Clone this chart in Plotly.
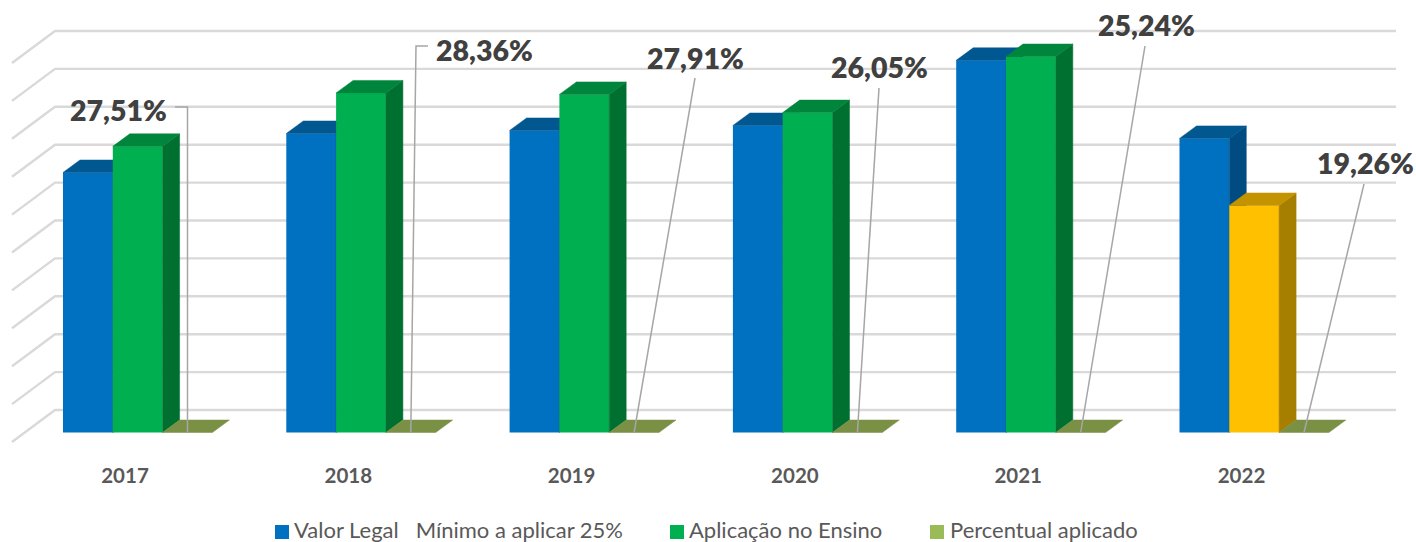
"""3D-look column chart: legal minimum vs. education spending, 2017-2022."""
import plotly.graph_objects as go

# Values are read off the picture, in grid steps (the value axis has no labels)
anos = ['2017', '2018', '2019', '2020', '2021', '2022']
valor_legal = [6.86, 7.89, 7.97, 8.10, 9.82, 7.76]
aplicacao = [7.55, 8.96, 8.92, 8.44, 9.92, 5.99]
percentual = [27.51, 28.36, 27.91, 26.05, 25.24, 19.26]
percentual_txt = ['27,51%', '28,36%', '27,91%', '26,05%', '25,24%', '19,26%']
legend_names = ['Valor Legal \u00a0\u00a0Mínimo a aplicar 25%', 'Aplicação no Ensino', 'Percentual aplicado']
grid_steps = list(range(11))

# Geometry of the fake 3D box, in pixels of the 1416x542 picture
W, H = 1416, 542
PLOT_BOTTOM = 450
X0_PX, CAT_PX = 125.0, 223.3    # centre of the first category label, category pitch
Y0_PX, STEP_PX = 432.5, 37.9    # front baseline of the bars, height of a grid step
BAR_PX, BLUE_OFF_PX = 49.8, -62.0
DEPTH_X_PX, DEPTH_Y_PX = 17.0, 12.5
GRID_BACK_Y_PX = 410.0
GRID_LEFT_PX, GRID_BACK_X_PX, GRID_RIGHT_PX = 12.0, 55.0, 1396.0
GRID_SLOPE_PX = 32.0


def dx(px):
    return (px - X0_PX) / CAT_PX


def dy(px):
    return (Y0_PX - px) / STEP_PX


def paper_x(px):
    return px / W


def paper_y(px):
    return (PLOT_BOTTOM - px) / PLOT_BOTTOM


bar_w = BAR_PX / CAT_PX
depth_x = DEPTH_X_PX / CAT_PX
depth_y = DEPTH_Y_PX / STEP_PX
off_blue = BLUE_OFF_PX / CAT_PX
off_green = off_blue + bar_w
off_third = off_green + bar_w

BLUE = ('#0070C0', '#01578F', '#004C82')       # front, top, side
GREEN = ('#00B050', '#00853D', '#007030')
YELLOW = ('#FFC000', '#C49400', '#A67F00')
OLIVE_LEGEND, OLIVE_TOP = '#9BBB59', '#7A9044'

fig = go.Figure()

# Back wall grid, with the short diagonal on the left side wall
back_y = [dy(GRID_BACK_Y_PX) + s for s in grid_steps]
grid_x, grid_y = [], []
for y in back_y:
    grid_x += [dx(GRID_LEFT_PX), dx(GRID_BACK_X_PX), dx(GRID_RIGHT_PX), None]
    grid_y += [y - GRID_SLOPE_PX / STEP_PX, y, y, None]
fig.add_trace(go.Scatter(x=grid_x, y=grid_y, mode='lines', showlegend=False, hoverinfo='skip',
                         line=dict(color='#D9D9D9', width=2.4)))


def box_faces(i, off, value, colours, xa, ya):
    """Top and right faces of one column; the front face is the Bar trace."""
    left = i + off
    right = left + bar_w
    top = [left, right, right + depth_x, left + depth_x, left]
    top_y = [value, value, value + depth_y, value + depth_y, value]
    side = [right, right + depth_x, right + depth_x, right, right]
    side_y = [value, value + depth_y, depth_y, 0, value]
    for xs, ys, colour in ((side, side_y, colours[2]), (top, top_y, colours[1])):
        fig.add_trace(go.Scatter(x=xs, y=ys, xaxis=xa, yaxis=ya, mode='lines', fill='toself',
                                 fillcolor=colour, line=dict(color=colour, width=0.5),
                                 showlegend=False, hoverinfo='skip'))


# Blue columns sit on their own overlaid axes so the green ones can cover their side faces
fig.add_trace(go.Bar(x=list(range(6)), y=valor_legal, width=bar_w, offset=off_blue,
                     marker=dict(color=BLUE[0], line=dict(width=0)), xaxis='x2', yaxis='y2',
                     name=legend_names[0], showlegend=False))
for i, v in enumerate(valor_legal):
    box_faces(i, off_blue, v, BLUE, 'x2', 'y2')

# Green columns; 2022 is below the legal minimum and goes yellow
fig.add_trace(go.Bar(x=list(range(6)), y=aplicacao, width=bar_w, offset=off_green,
                     marker=dict(color=[GREEN[0]] * 5 + [YELLOW[0]], line=dict(width=0)),
                     xaxis='x3', yaxis='y3', name=legend_names[1], showlegend=False))
for i, v in enumerate(aplicacao):
    box_faces(i, off_green, v, YELLOW if i == 5 else GREEN, 'x3', 'y3')

# Third series is a percentage on a money axis, so the column is flat on the floor
flat = [p / 1e6 for p in percentual]
fig.add_trace(go.Bar(x=list(range(6)), y=flat, width=bar_w, offset=off_third,
                     marker=dict(color=OLIVE_LEGEND, line=dict(width=0)), xaxis='x3', yaxis='y3',
                     name=legend_names[2], showlegend=False))
for i, v in enumerate(flat):
    left = i + off_third
    fig.add_trace(go.Scatter(x=[left, left + bar_w, left + bar_w + depth_x, left + depth_x, left],
                             y=[v, v, v + depth_y, v + depth_y, v], xaxis='x3', yaxis='y3',
                             mode='lines', fill='toself', fillcolor=OLIVE_TOP,
                             line=dict(color=OLIVE_TOP, width=0.5), showlegend=False, hoverinfo='skip'))

# Leader lines go from each label down to the flat third column
leader_start_px = [[(175, 107), (187.5, 107)], [(428, 46), (416, 46)], [(695, 78)],
                   [(879, 88)], [(1145, 46)], [(1364, 184)]]
lead_x, lead_y = [], []
for i, (pts, v) in enumerate(zip(leader_start_px, flat)):
    lead_x += [dx(p[0]) for p in pts] + [i + off_third + bar_w / 2, None]
    lead_y += [dy(p[1]) for p in pts] + [v, None]
fig.add_trace(go.Scatter(x=lead_x, y=lead_y, xaxis='x3', yaxis='y3', mode='lines', showlegend=False,
                         hoverinfo='skip', line=dict(color='#A6A6A6', width=1.5)))

# Data labels
label_px = [(118, 110), (484, 50), (695, 58), (879, 67), (1146, 25), (1365, 163)]
for txt, (lx, ly) in zip(percentual_txt, label_px):
    fig.add_annotation(x=dx(lx), y=dy(ly), xref='x', yref='y', text=txt, showarrow=False,
                       xanchor='center', yanchor='middle',
                       font=dict(family='Lato', size=28.5, color='#404040', weight=800))

# Hand-drawn legend: the gaps and the swatch spacing are uneven in the original
legend_swatch_px = [275, 670, 930]
legend_text_px = [294, 689, 950]
legend_colours = [BLUE[0], GREEN[0], OLIVE_LEGEND]
for name, sx, tx, colour in zip(legend_names, legend_swatch_px, legend_text_px, legend_colours):
    fig.add_shape(type='rect', xref='paper', yref='paper', x0=paper_x(sx), x1=paper_x(sx + 14),
                  y0=paper_y(539), y1=paper_y(525), fillcolor=colour, line=dict(width=0))
    fig.add_annotation(x=paper_x(tx), y=paper_y(529.5), xref='paper', yref='paper', text=name,
                       showarrow=False, xanchor='left', yanchor='middle', borderpad=0, borderwidth=0,
                       font=dict(family='Lato', size=22, color='#595959'))

x_range = [dx(0), dx(W)]
y_range = [dy(PLOT_BOTTOM), dy(0)]
hidden = dict(visible=False, showgrid=False, zeroline=False)
fig.update_layout(
    width=W, height=H, barmode='overlay', showlegend=False,
    paper_bgcolor='white', plot_bgcolor='white',
    margin=dict(l=0, r=0, t=0, b=H - PLOT_BOTTOM, pad=0, autoexpand=False),
    font=dict(family='Lato', color='#595959'),
    xaxis=dict(range=x_range, tickmode='array', tickvals=list(range(6)), ticktext=anos,
               showgrid=False, zeroline=False, showline=False, ticks='outside', ticklen=7,
               tickcolor='rgba(0,0,0,0)',
               tickfont=dict(family='Lato', size=20.5, color='#595959', weight='bold')),
    yaxis=dict(range=y_range, **hidden),
    xaxis2=dict(range=x_range, overlaying='x', **hidden),
    yaxis2=dict(range=y_range, overlaying='y', **hidden),
    xaxis3=dict(range=x_range, overlaying='x', **hidden),
    yaxis3=dict(range=y_range, overlaying='y', **hidden),
)

# Drop the browser's default body margin so the figure fills the window exactly
fig.write_html("out.html", config={'displayModeBar': False},
               post_script="document.body.style.margin = '0';")
